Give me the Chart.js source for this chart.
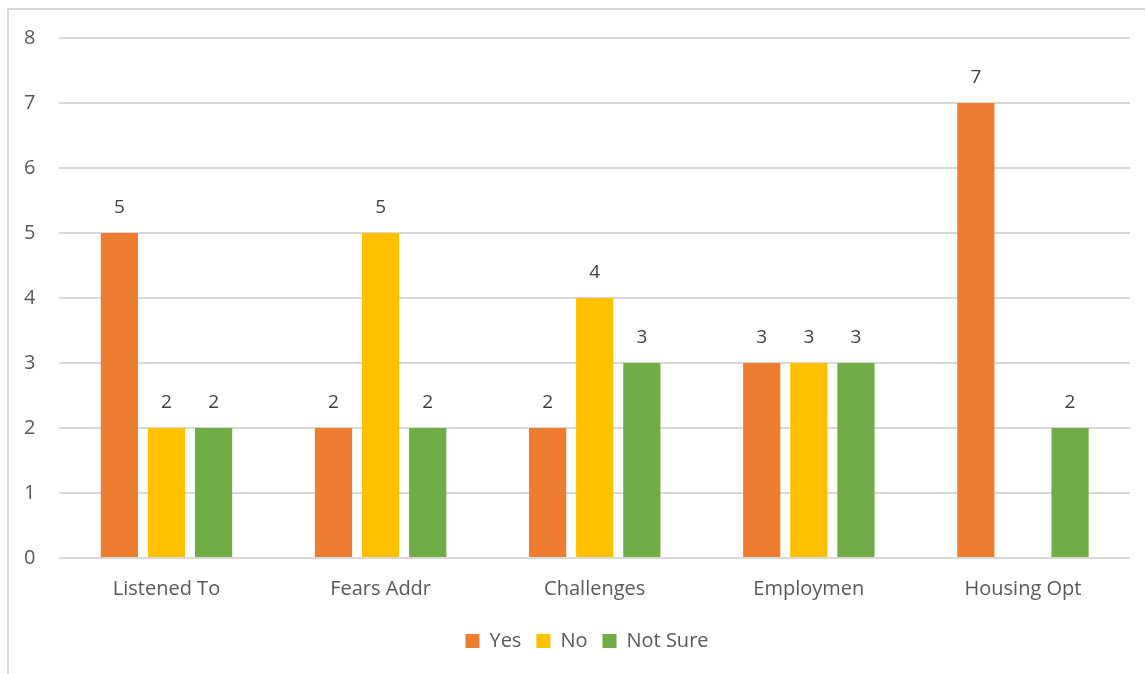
<!DOCTYPE html>
<html>
<head>
<meta charset="utf-8">
<script src="https://cdn.jsdelivr.net/npm/chart.js@4.4.0/dist/chart.umd.min.js"></script>
<style>
  html, body { margin: 0; padding: 0; background: #fff; overflow: hidden; }
  #frame { position: absolute; left: 7px; top: 8px; width: 1200px; height: 700px; border: 2px solid #d9d9d9; box-sizing: border-box; }
  #wrap { position: absolute; left: 0; top: 0; width: 1145px; height: 674px; }
</style>
</head>
<body>
<div id="frame"></div>
<div id="wrap"><canvas id="chart"></canvas></div>
<script>
const categories = ["Listened To", "Fears Addr", "Challenges", "Employmen", "Housing Opt"];
const yesValues = [5, 2, 2, 3, 7];
const noValues = [2, 5, 4, 3, null];
const notSureValues = [2, 2, 3, 3, 2];

const textColor = "#595959";
const fontFamily = "'Open Sans', 'Noto Sans', sans-serif";

// draws the value above each bar
const valueLabels = {
  id: "valueLabels",
  afterDatasetsDraw(chart) {
    const ctx = chart.ctx;
    ctx.save();
    ctx.fillStyle = "#404040";
    ctx.font = "19px " + fontFamily;
    ctx.textAlign = "center";
    ctx.textBaseline = "middle";
    chart.data.datasets.forEach((ds, i) => {
      chart.getDatasetMeta(i).data.forEach((bar, j) => {
        const v = ds.data[j];
        if (v == null) return;
        ctx.fillText(String(v), bar.x, bar.y - 25);
      });
    });
    ctx.restore();
  }
};

// nudge the legend a bit right and down, like the original
const legendNudge = {
  id: "legendNudge",
  afterLayout(chart) {
    const lg = chart.legend;
    if (!lg) return;
    lg.left += 22; lg.right += 22;
    lg.top += 4; lg.bottom += 4;
  }
};

const ctx = document.getElementById("chart").getContext("2d");
const myChart = new Chart(ctx, {
  type: "bar",
  data: {
    labels: categories,
    datasets: [
      { label: "Yes", data: yesValues, backgroundColor: "#ED7D31" },
      { label: "No", data: noValues, backgroundColor: "#FFC000" },
      { label: "Not Sure", data: notSureValues, backgroundColor: "#70AD47" },
    ],
  },
  options: {
    responsive: true,
    maintainAspectRatio: false,
    animation: false,
    datasets: {
      bar: { categoryPercentage: 0.66, barPercentage: 0.79 },
    },
    layout: { padding: { left: 0, right: 15, top: 38, bottom: 17 } },
    scales: {
      x: {
        grid: { display: false },
        border: { display: false },
        ticks: { color: textColor, font: { family: fontFamily, size: 20 }, padding: 11 },
      },
      y: {
        min: 0,
        max: 8,
        ticks: { stepSize: 1, color: textColor, font: { family: fontFamily, size: 20 }, padding: 24 },
        grid: { color: "#d9d9d9", lineWidth: 2, drawTicks: false },
        border: { display: false },
      },
    },
    plugins: {
      legend: {
        position: "bottom",
        labels: {
          color: textColor,
          font: { family: fontFamily, size: 20 },
          boxWidth: 14,
          boxHeight: 14,
          padding: 15,
        },
      },
      tooltip: { enabled: false },
    },
  },
  plugins: [valueLabels, legendNudge],
});
</script>
</body>
</html>
